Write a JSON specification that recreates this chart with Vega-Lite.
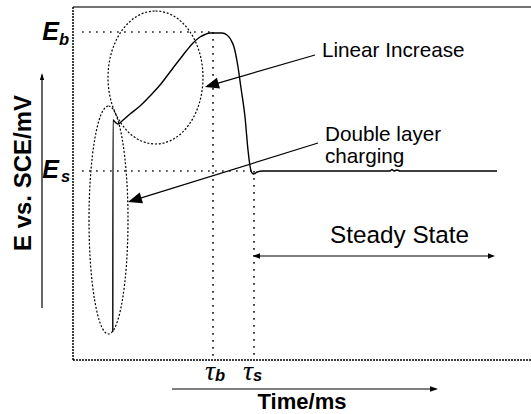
{
  "$schema": "https://vega.github.io/schema/vega-lite/v6.json",
  "width": 458,
  "height": 353,
  "autosize": "none",
  "padding": {"left": 73, "top": 7, "right": 0, "bottom": 54},
  "background": "white",
  "config": {"view": {"stroke": null}},
  "encoding": {
    "x": {"field": "x", "type": "quantitative", "scale": {"domain": [0, 458], "nice": false, "zero": false}, "axis": null},
    "y": {"field": "y", "type": "quantitative", "scale": {"domain": [0, 353], "nice": false, "zero": false}, "axis": null}
  },
  "layer": [
    {
      "data": {"values": [{"x": 0, "y": 353, "x2": 458, "y2": 353}]},
      "mark": {"type": "rule", "stroke": "#444444", "strokeWidth": 1.5},
      "encoding": {"x2": {"field": "x2"}, "y2": {"field": "y2"}}
    },
    {
      "data": {"values": [{"x": 0, "y": 0, "x2": 0, "y2": 353}, {"x": 0, "y": 0, "x2": 458, "y2": 0}]},
      "mark": {"type": "rule", "stroke": "black", "strokeWidth": 1.5, "strokeDash": [2, 1]},
      "encoding": {"x2": {"field": "x2"}, "y2": {"field": "y2"}}
    },
    {
      "data": {"values": [
        {"x": 9, "y": 328, "x2": 140, "y2": 328},
        {"x": 9, "y": 189, "x2": 180, "y2": 189},
        {"x": 140, "y": 328, "x2": 140, "y2": 0},
        {"x": 181, "y": 189, "x2": 181, "y2": 0}
      ]},
      "mark": {"type": "rule", "stroke": "#222222", "strokeWidth": 1.7, "strokeDash": [1.7, 5.3]},
      "encoding": {"x2": {"field": "x2"}, "y2": {"field": "y2"}}
    },
    {
      "data": {"values": [{"x": 82.5, "y": 282.5}]},
      "mark": {"type": "point", "filled": false, "stroke": "black", "strokeWidth": 1.2, "opacity": 1, "strokeDash": [2, 1.8], "size": 17689,
        "shape": "M0,-1C0.394,-1 0.714,-0.552 0.714,0C0.714,0.552 0.394,1 0,1C-0.394,1 -0.714,0.552 -0.714,0C-0.714,-0.552 -0.394,-1 0,-1Z"}
    },
    {
      "data": {"values": [{"x": 35.5, "y": 140}]},
      "mark": {"type": "point", "filled": false, "stroke": "black", "strokeWidth": 1.2, "opacity": 1, "strokeDash": [2, 1.8], "size": 51984,
        "shape": "M0,-1C0.0945,-1 0.171,-0.552 0.171,0C0.171,0.552 0.0945,1 0,1C-0.0945,1 -0.171,0.552 -0.171,0C-0.171,-0.552 -0.0945,-1 0,-1Z"}
    },
    {
      "data": {"values": [
        {"i": 0, "x": 39.8, "y": 28},
        {"i": 1, "x": 40, "y": 240},
        {"i": 2, "x": 42, "y": 238},
        {"i": 3, "x": 45, "y": 236},
        {"i": 4, "x": 49, "y": 239},
        {"i": 5, "x": 57, "y": 246},
        {"i": 6, "x": 67, "y": 254},
        {"i": 7, "x": 77, "y": 264},
        {"i": 8, "x": 87, "y": 275},
        {"i": 9, "x": 94, "y": 284},
        {"i": 10, "x": 100, "y": 292},
        {"i": 11, "x": 107, "y": 301},
        {"i": 12, "x": 114, "y": 310},
        {"i": 13, "x": 120, "y": 317},
        {"i": 14, "x": 127, "y": 323},
        {"i": 15, "x": 132, "y": 325.5},
        {"i": 16, "x": 137, "y": 327},
        {"i": 17, "x": 149, "y": 327},
        {"i": 18, "x": 154, "y": 325},
        {"i": 19, "x": 158, "y": 320},
        {"i": 20, "x": 161, "y": 313},
        {"i": 21, "x": 165, "y": 293},
        {"i": 22, "x": 168, "y": 272},
        {"i": 23, "x": 172, "y": 243},
        {"i": 24, "x": 175, "y": 210},
        {"i": 25, "x": 177, "y": 194},
        {"i": 26, "x": 179, "y": 187},
        {"i": 27, "x": 181, "y": 186},
        {"i": 28, "x": 184, "y": 188},
        {"i": 29, "x": 190, "y": 189},
        {"i": 30, "x": 317, "y": 189},
        {"i": 31, "x": 319, "y": 190.5},
        {"i": 32, "x": 321, "y": 189},
        {"i": 33, "x": 324, "y": 190},
        {"i": 34, "x": 327, "y": 189},
        {"i": 35, "x": 424, "y": 189}
      ]},
      "mark": {"type": "line", "stroke": "black", "strokeWidth": 1.4, "interpolate": "monotone"},
      "encoding": {"order": {"field": "i", "type": "quantitative"}}
    },
    {
      "data": {"values": [
        {"x": 242, "y": 305, "x2": 134, "y2": 273.6},
        {"x": 245, "y": 217, "x2": 57, "y2": 158.6},
        {"x": 182, "y": 104, "x2": 420, "y2": 104},
        {"x": -31, "y": 52, "x2": -31, "y2": 285},
        {"x": 99, "y": -29, "x2": 363, "y2": -29}
      ]},
      "mark": {"type": "rule", "stroke": "black", "strokeWidth": 1.2},
      "encoding": {"x2": {"field": "x2"}, "y2": {"field": "y2"}}
    },
    {
      "data": {"values": [{"x": 132, "y": 273}]},
      "mark": {"type": "point", "filled": true, "fill": "black", "stroke": null, "size": 784, "angle": 253.8, "opacity": 1, "shape": "M0,0L0.4,1L-0.4,1Z"}
    },
    {
      "data": {"values": [{"x": 55, "y": 158}]},
      "mark": {"type": "point", "filled": true, "fill": "black", "stroke": null, "size": 784, "angle": 252.75, "opacity": 1, "shape": "M0,0L0.4,1L-0.4,1Z"}
    },
    {
      "data": {"values": [{"x": 180, "y": 104}]},
      "mark": {"type": "point", "filled": true, "fill": "black", "stroke": null, "size": 196, "angle": 270, "opacity": 1, "shape": "M0,0L0.4,1L-0.4,1Z"}
    },
    {
      "data": {"values": [{"x": 422, "y": 104}]},
      "mark": {"type": "point", "filled": true, "fill": "black", "stroke": null, "size": 196, "angle": 90, "opacity": 1, "shape": "M0,0L0.4,1L-0.4,1Z"}
    },
    {
      "data": {"values": [{"x": -31, "y": 287}]},
      "mark": {"type": "point", "filled": true, "fill": "black", "stroke": null, "size": 196, "angle": 0, "opacity": 1, "shape": "M0,0L0.3,1L-0.3,1Z"}
    },
    {
      "data": {"values": [{"x": 365, "y": -29}]},
      "mark": {"type": "point", "filled": true, "fill": "black", "stroke": null, "size": 256, "angle": 90, "opacity": 1, "shape": "M0,0L0.35,1L-0.35,1Z"}
    },
    {
      "data": {"values": [
        {"x": 249, "y": 303, "text": "Linear Increase"},
        {"x": 252, "y": 219, "text": "Double layer"},
        {"x": 252, "y": 197, "text": "charging"}
      ]},
      "mark": {"type": "text", "align": "left", "baseline": "alphabetic", "font": "Liberation Sans", "fontSize": 20.7, "fill": "black"},
      "encoding": {"text": {"field": "text"}}
    },
    {
      "data": {"values": [{"x": 257, "y": 117, "text": "Steady State"}]},
      "mark": {"type": "text", "align": "left", "baseline": "alphabetic", "font": "Liberation Sans", "fontSize": 24.3, "fill": "black"},
      "encoding": {"text": {"field": "text"}}
    },
    {
      "data": {"values": [
        {"x": -14, "y": 320, "text": "E"},
        {"x": -14, "y": 182, "text": "E"}
      ]},
      "mark": {"type": "text", "align": "right", "baseline": "alphabetic", "font": "Liberation Sans", "fontSize": 25, "fontWeight": "bold", "fontStyle": "italic", "fill": "black"},
      "encoding": {"text": {"field": "text"}}
    },
    {
      "data": {"values": [
        {"x": -14, "y": 315, "text": "b"},
        {"x": -12, "y": 178, "text": "s"},
        {"x": 142, "y": -21, "text": "b"},
        {"x": 180, "y": -21, "text": "s"}
      ]},
      "mark": {"type": "text", "align": "left", "baseline": "alphabetic", "font": "Liberation Sans", "fontSize": 16.5, "fontWeight": "bold", "fontStyle": "italic", "fill": "black"},
      "encoding": {"text": {"field": "text"}}
    },
    {
      "data": {"values": [
        {"x": 142, "y": -20, "text": "τ"},
        {"x": 180, "y": -20, "text": "τ"}
      ]},
      "mark": {"type": "text", "align": "right", "baseline": "alphabetic", "font": "Liberation Serif", "fontSize": 28, "fontStyle": "italic", "fill": "black"},
      "encoding": {"text": {"field": "text"}}
    },
    {
      "data": {"values": [{"x": 229, "y": -49, "text": "Time/ms"}]},
      "mark": {"type": "text", "align": "center", "baseline": "alphabetic", "font": "Liberation Sans", "fontSize": 22, "fontWeight": "bold", "fill": "black"},
      "encoding": {"text": {"field": "text"}}
    },
    {
      "data": {"values": [{"x": -42, "y": 187, "text": "E vs. SCE/mV"}]},
      "mark": {"type": "text", "align": "center", "baseline": "alphabetic", "angle": 270, "font": "Liberation Sans", "fontSize": 24, "fontWeight": "bold", "fill": "black"},
      "encoding": {"text": {"field": "text"}}
    }
  ]
}
